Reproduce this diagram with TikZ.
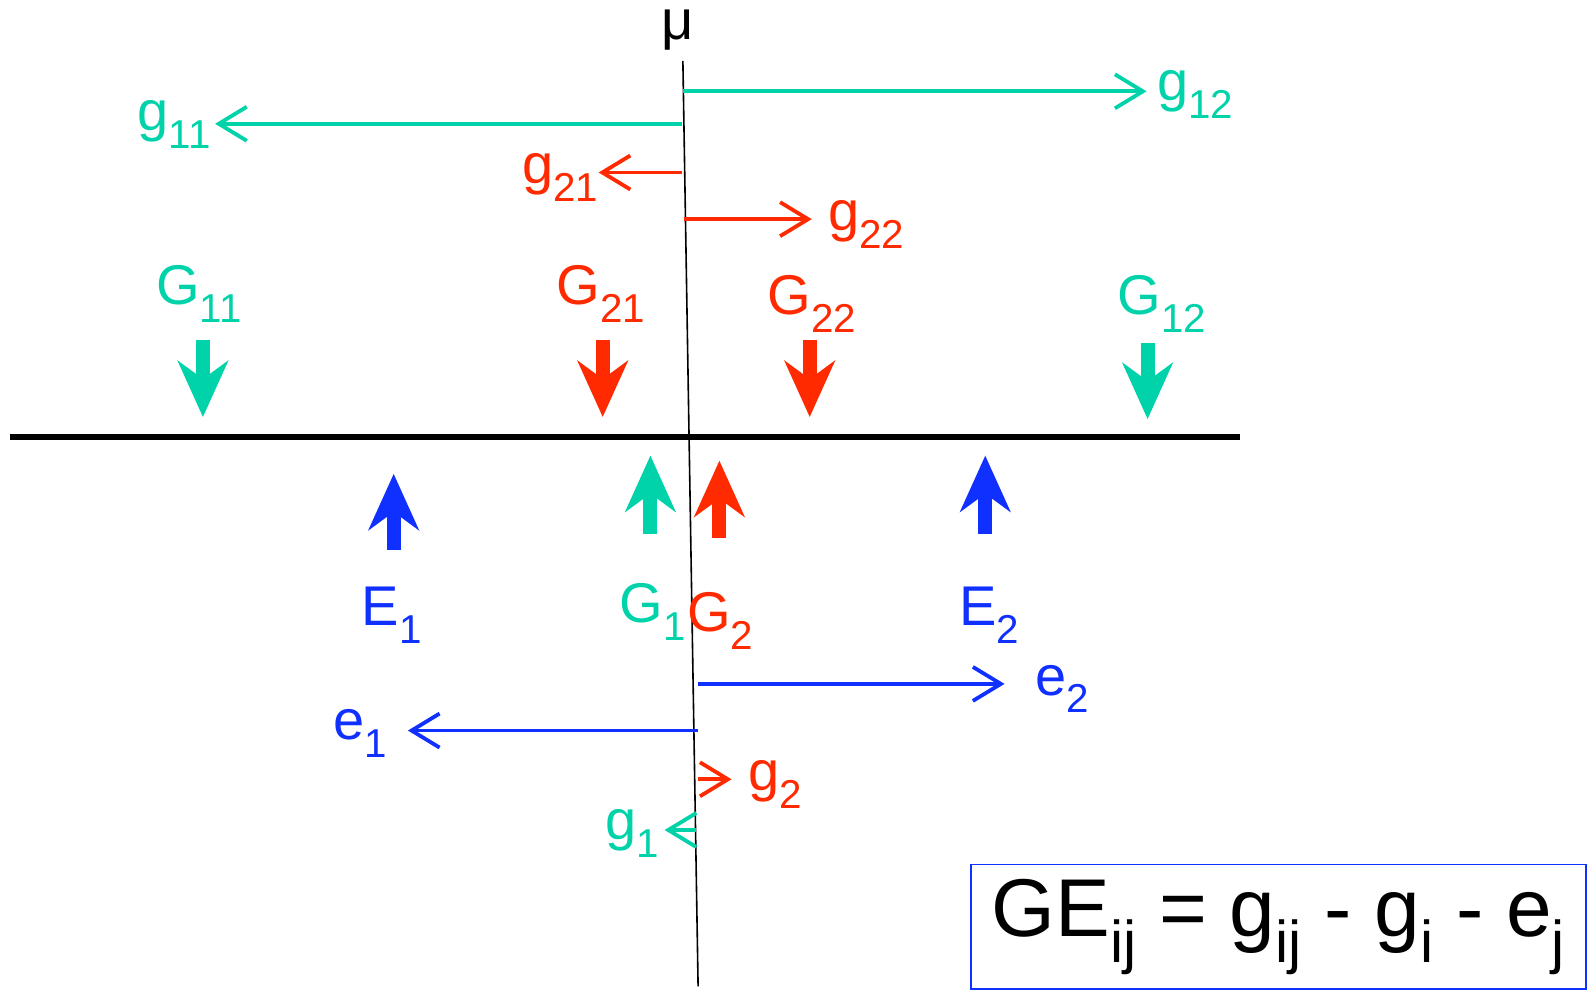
\documentclass[tikz,border=0pt]{standalone}
\usepackage{fontspec}
\usepackage{graphicx}
\setmainfont{Liberation Sans}
\usetikzlibrary{arrows.meta}
\definecolor{teal}{HTML}{00D2AA}
\definecolor{redc}{HTML}{FF2A00}
\definecolor{bluec}{HTML}{1030FF}
\newcommand\sbt[1]{\raisebox{-0.32em}{\scalebox{0.72}{#1}}}
\tikzset{
  lbl/.style={inner sep=0pt, font=\fontsize{28}{32}\selectfont},
  thinarrow/.style={line width=1.9pt, -{Straight Barb[length=14pt,width=17pt,line width=1.9pt]}},
  bigarrow/.style={line width=7pt, -{Stealth[length=28pt,width=25pt,inset=9pt]}},
}
\begin{document}
\begin{tikzpicture}[x=0.50733pt,y=-0.50733pt]
\useasboundingbox (0,0) rectangle (1568,978);
% axes
\coordinate (vtop) at (673,60);
\coordinate (vbot) at (688,972);
\draw[line width=0.8pt] (vtop) -- (vbot);
\node[lbl] (mu) at (668,30) {μ};
\coordinate (hl) at (10,431);
\coordinate (hr) at (1222,431);
\draw[line width=3pt] (hl) -- (hr);
% thin arrows top
\coordinate (s12) at (673,90);  \coordinate (t12) at (1130,90);
\node[lbl,teal,anchor=west] (g12) at (1140,93) {g\sbt{12}};
\draw[thinarrow,teal] (s12) -- (t12);
\coordinate (s11) at (672,122); \coordinate (t11) at (212,122);
\node[lbl,teal,anchor=east] (g11) at (208,123) {g\sbt{11}};
\draw[thinarrow,teal] (s11) -- (t11);
\coordinate (s21) at (672,170); \coordinate (t21) at (590,170);
\node[lbl,redc,anchor=east] (g21) at (590,175) {g\sbt{21}};
\draw[thinarrow,redc] (s21) -- (t21);
\coordinate (s22) at (674,216); \coordinate (t22) at (800,216);
\node[lbl,redc,anchor=west] (g22) at (816,221) {g\sbt{22}};
\draw[thinarrow,redc] (s22) -- (t22);
% big labels top
\node[lbl,teal] (G11) at (196,290) {G\sbt{11}};
\node[lbl,redc] (G21) at (592,290) {G\sbt{21}};
\node[lbl,redc] (G22) at (800,300) {G\sbt{22}};
\node[lbl,teal] (G12) at (1145,300) {G\sbt{12}};
\coordinate (a11) at (200,335); \coordinate (b11) at (200,411);
\coordinate (a21) at (594,335); \coordinate (b21) at (594,411);
\coordinate (a22) at (798,335); \coordinate (b22) at (798,411);
\coordinate (a12) at (1131,338); \coordinate (b12) at (1131,413);
\draw[bigarrow,teal] (a11) -- (b11);
\draw[bigarrow,redc] (a21) -- (b21);
\draw[bigarrow,redc] (a22) -- (b22);
\draw[bigarrow,teal] (a12) -- (b12);
% big arrows bottom
\coordinate (aE1) at (388,542); \coordinate (bE1) at (388,467);
\coordinate (aG1) at (641,526); \coordinate (bG1) at (641,449);
\coordinate (aG2) at (709,530); \coordinate (bG2) at (709,454);
\coordinate (aE2) at (971,526); \coordinate (bE2) at (971,449);
\draw[bigarrow,bluec] (aE1) -- (bE1);
\draw[bigarrow,teal] (aG1) -- (bG1);
\draw[bigarrow,redc] (aG2) -- (bG2);
\draw[bigarrow,bluec] (aE2) -- (bE2);
\node[lbl,bluec] (E1) at (386,606) {E\sbt{1}};
\node[lbl,teal] (G1) at (643,603) {G\sbt{1}};
\node[lbl,redc] (G2) at (710,612) {G\sbt{2}};
\node[lbl,bluec] (E2) at (975,606) {E\sbt{2}};
% thin arrows bottom
\coordinate (se2) at (688,674); \coordinate (te2) at (990,674);
\node[lbl,bluec,anchor=west] (e2) at (1020,679) {e\sbt{2}};
\draw[thinarrow,bluec] (se2) -- (te2);
\coordinate (se1) at (688,720); \coordinate (te1) at (402,720);
\node[lbl,bluec,anchor=east] (e1) at (382,723) {e\sbt{1}};
\draw[thinarrow,bluec] (se1) -- (te1);
\coordinate (sg2) at (688,768); \coordinate (tg2) at (721,768);
\node[lbl,redc,anchor=west] (g2) at (737,773) {g\sbt{2}};
\draw[thinarrow,redc] (sg2) -- (tg2);
\coordinate (sg1) at (686,818); \coordinate (tg1) at (655,818);
\node[lbl,teal,anchor=east] (g1) at (650,821) {g\sbt{1}};
\draw[thinarrow,teal] (sg1) -- (tg1);
% formula box
\node[draw=bluec, line width=0.9pt, minimum width=606*0.50733pt, minimum height=123*0.50733pt, inner sep=0pt,
  font=\fontsize{41}{48}\selectfont] (box) at (1260,913.5)
  {GE\sbt{ij} = g\sbt{ij} - g\sbt{i} - e\sbt{j}};
\end{tikzpicture}
\end{document}
